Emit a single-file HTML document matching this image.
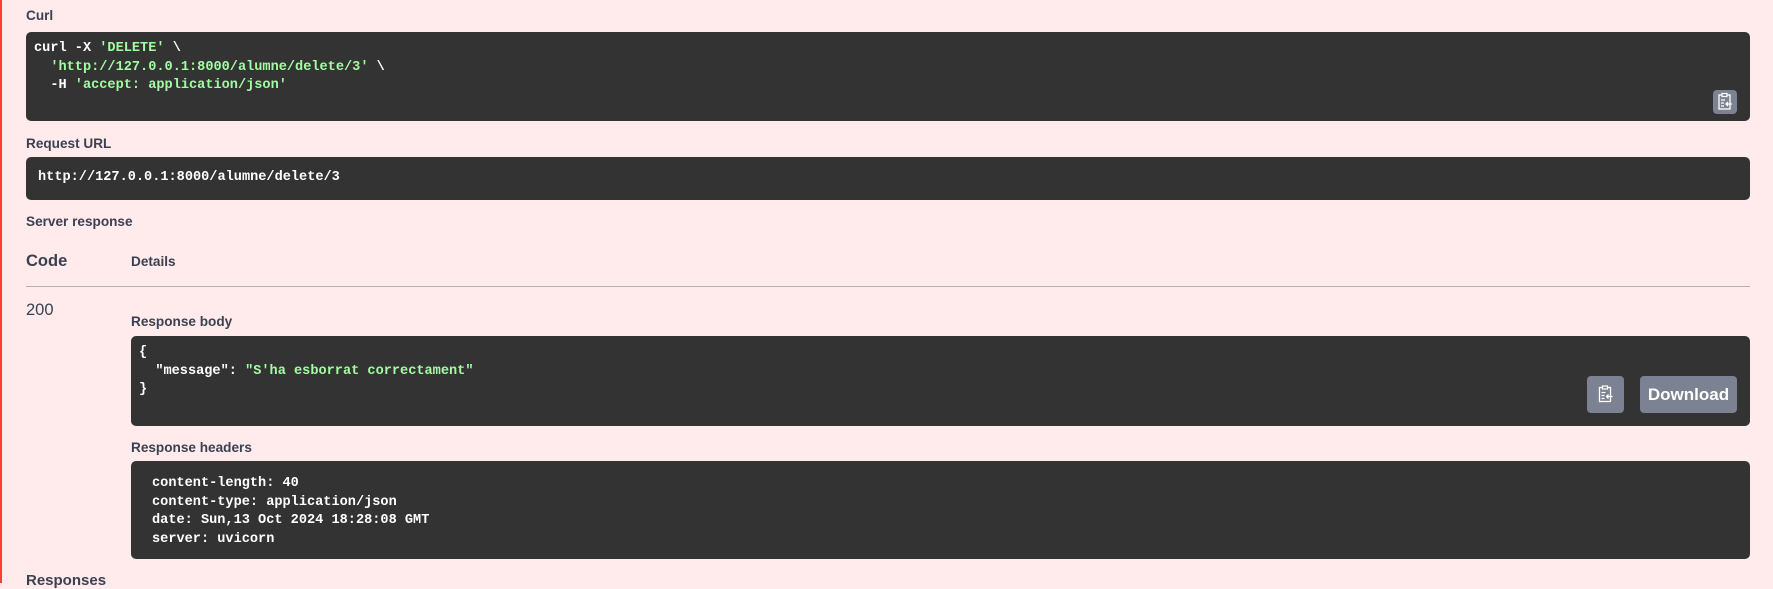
<!DOCTYPE html>
<html><head><meta charset="utf-8">
<style>
html,body{margin:0;padding:0;}
body{width:1773px;height:583px;background:#ffebeb;position:relative;overflow:hidden;font-family:"Liberation Sans",sans-serif;color:#3b4151;}
.edge{position:absolute;left:0;top:0;width:2px;height:583px;background:#f93e3e;}
.lbl{position:absolute;font-size:13.6px;font-weight:bold;line-height:16px;}
.box{position:absolute;background:#333;border-radius:5px;}
.code{position:absolute;font-family:"Liberation Mono",monospace;font-weight:bold;font-size:13.6px;color:#fff;white-space:pre;line-height:18.5px;}
.s{color:#a2fca2;}
.btn{position:absolute;background:#7d8293;border-radius:4px;}
.dl{color:#fff;font-weight:bold;font-size:17px;text-align:center;line-height:37px;}
</style></head><body>
<div class="edge"></div>

<div class="lbl" style="left:26px;top:8px">Curl</div>
<div class="box" style="left:26px;top:32px;width:1724px;height:89px">
 <div class="code" style="left:8px;top:8px">curl -X <span class="s">'DELETE'</span> \
  <span class="s">'http://127.0.0.1:8000/alumne/delete/3'</span> \
  -H <span class="s">'accept: application/json'</span></div>
 <div class="btn" style="left:1687px;top:58px;width:24px;height:24px">
  <svg width="24" height="24" viewBox="0 0 24 24"><rect x="6" y="5" width="11" height="14" fill="none" stroke="#fff" stroke-width="1.3"/><rect x="9" y="3.5" width="5" height="3" fill="#7d8293" stroke="#fff" stroke-width="1.2"/><path d="M8 10h4M8 13h3M8 16h3M19 14h-6M15 12l-2 2 2 2" stroke="#fff" stroke-width="1.3" fill="none"/></svg>
 </div>
</div>

<div class="lbl" style="left:26px;top:136px">Request URL</div>
<div class="box" style="left:26px;top:157px;width:1724px;height:43px">
 <div class="code" style="left:12px;top:12px">http://127.0.0.1:8000/alumne/delete/3</div>
</div>

<div class="lbl" style="left:26px;top:214px">Server response</div>
<div class="lbl" style="left:26px;top:251px;font-size:16.5px;line-height:20px">Code</div>
<div class="lbl" style="left:131px;top:254px">Details</div>
<div style="position:absolute;left:26px;top:286px;width:1724px;height:1px;background:#b8b0b4"></div>

<div style="position:absolute;left:26px;top:300px;font-size:16.5px;line-height:20px">200</div>
<div class="lbl" style="left:131px;top:314px">Response body</div>
<div class="box" style="left:131px;top:336px;width:1619px;height:90px">
 <div class="code" style="left:8px;top:8px">{
  "message": <span class="s">"S'ha esborrat correctament"</span>
}</div>
 <div class="btn" style="left:1456px;top:40px;width:37px;height:37px">
  <svg width="37" height="37" viewBox="-6.5 -6.5 37 37"><rect x="6" y="5" width="11" height="14" fill="none" stroke="#fff" stroke-width="1.3"/><rect x="9" y="3.5" width="5" height="3" fill="#7d8293" stroke="#fff" stroke-width="1.2"/><path d="M8 10h4M8 13h3M8 16h3M19 14h-6M15 12l-2 2 2 2" stroke="#fff" stroke-width="1.3" fill="none"/></svg>
 </div>
 <div class="btn dl" style="left:1509px;top:40px;width:97px;height:37px">Download</div>
</div>

<div class="lbl" style="left:131px;top:440px">Response headers</div>
<div class="box" style="left:131px;top:461px;width:1619px;height:98px">
 <div class="code" style="left:21px;top:14px">content-length: 40
content-type: application/json
date: Sun,13 Oct 2024 18:28:08 GMT
server: uvicorn</div>
</div>

<div class="lbl" style="left:26px;top:573px;font-size:15px">Responses</div>
</body></html>
